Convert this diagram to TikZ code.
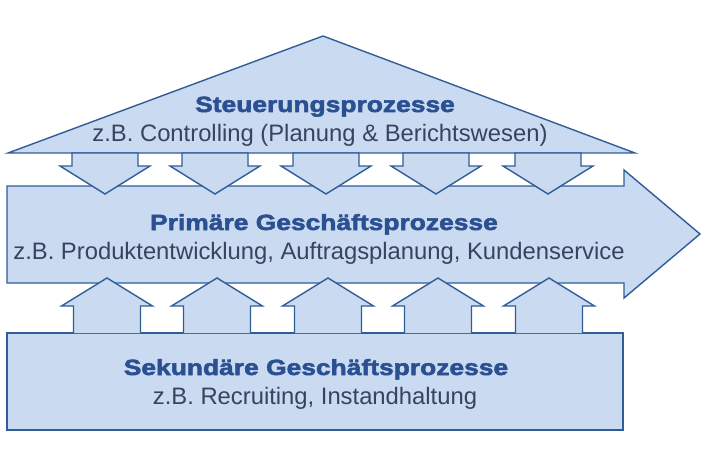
\documentclass[tikz,border=0pt]{standalone}
\usepackage{fontspec}
\setmainfont{Liberation Sans}
\newfontfamily\headfont[FakeStretch=1.2,FakeBold=2.5]{Liberation Sans Bold}
\definecolor{boxfill}{HTML}{C9DAF1}
\definecolor{boxline}{HTML}{2F5D98}
\definecolor{headcol}{HTML}{2B5092}
\definecolor{subcol}{HTML}{38445E}
\begin{document}
\begin{tikzpicture}[x=1pt,y=-1pt,
  blockshape/.style={fill=boxfill,draw=boxline,line width=1.4pt,line join=miter},
  headtext/.style={anchor=base,inner sep=0pt,text=headcol,font=\headfont\fontsize{22}{26}\selectfont},
  subtext/.style={anchor=base,inner sep=0pt,text=subcol,font=\fontsize{23.8}{28}\selectfont}]
\useasboundingbox (0,0) rectangle (713,460);
% roof
\draw[blockshape] (8,153) -- (323,36) -- (635,153) -- cycle;
% big arrow
\draw[blockshape] (7,186) -- (624,186) -- (624,170) -- (700,234) -- (624,298) -- (624,283) -- (7,283) -- cycle;
% down arrows
\foreach \c in {105,215,326,436,548}{
  \draw[blockshape] (\c-33,153) -- (\c+33,153) -- (\c+33,166) -- (\c+45,166) -- (\c,194) -- (\c-45,166) -- (\c-33,166) -- cycle;
}
% bottom box
\draw[blockshape] (7,333) rectangle (623,430);
% up arrows
\foreach \c in {107,217,328,438,549}{
  \draw[blockshape] (\c-33.5,333) -- (\c-33.5,306) -- (\c-45.5,306) -- (\c,278) -- (\c+45.5,306) -- (\c+33.5,306) -- (\c+33.5,333);
}
% texts
\node[headtext] (steuer) at (325,112) {Steuerungsprozesse};
\node[subtext] (steuerEx) at (320,142) {z.B. Controlling (Planung \& Berichtswesen)};
\node[headtext] (prim) at (324,230) {Primäre Geschäftsprozesse};
\node[subtext] (primEx) at (319,259) {z.B. Produktentwicklung, Auftragsplanung, Kundenservice};
\node[headtext] (sek) at (316,375) {Sekundäre Geschäftsprozesse};
\node[subtext] (sekEx) at (315,404) {z.B. Recruiting, Instandhaltung};
\end{tikzpicture}
\end{document}
